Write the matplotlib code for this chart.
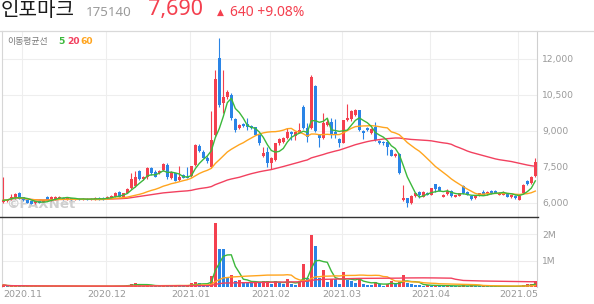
import numpy as np
import pandas as pd
import matplotlib
matplotlib.use('Agg')
import matplotlib.pyplot as plt
from matplotlib.lines import Line2D

# ---------------- data ----------------
opens = [6020, 6050, 6150, 6180, 6400, 6220, 6100, 6060, 5980, 6060,
         6030, 6250, 6080, 6150, 6180, 6200, 6150, 6180, 6120, 6170,
         6120, 6170, 6130, 6150, 6210, 6200, 6180, 6200, 6250, 6450,
         6250, 6420, 6600, 6700, 7300, 7000, 7080, 7450, 7290, 7220,
         7360, 7570, 7010, 7220, 6950, 7150, 7060, 7110, 7570, 8360,
         8130, 7880, 7500, 8820, 12040, 10140, 10390, 10490, 9500, 9100,
         9280, 9280, 9190, 9140, 8820, 7930, 8120, 7650, 7780, 8470,
         8540, 8680, 8930, 8780, 8920, 10000, 9100, 9100, 10860, 8820,
         8680, 9240, 9375, 8960, 8640, 8500, 9440, 9470, 9660, 9860,
         8990, 9100, 8920, 9170, 8580, 8540, 8540, 8200, 7960, 8030,
         6110, 6180, 5970, 6280, 6460, 6250, 6420, 6320, 6760, 6670,
         6250, 6360, 6500, 6250, 6280, 6690, 6460, 6280, 6180, 6280,
         6460, 6360, 6500, 6500, 6320, 6320, 6390, 6220, 6280, 6110,
         6420, 6920, 6810, 7100]
highs = [7080, 6150, 6360, 6420, 6430, 6240, 6120, 6080, 6070, 6080,
         6130, 6280, 6280, 6270, 6260, 6220, 6210, 6200, 6200, 6190,
         6190, 6190, 6190, 6220, 6230, 6220, 6280, 6300, 6440, 6470,
         6420, 6600, 7250, 7300, 7350, 7120, 7500, 7500, 7350, 7350,
         7650, 7640, 7320, 7250, 7530, 7180, 7500, 7540, 8450, 8450,
         8180, 7950, 9800, 11530, 12880, 11530, 10700, 10550, 9520, 9280,
         9300, 9510, 9220, 9160, 8850, 8330, 8330, 7920, 8500, 8700,
         8720, 9100, 8990, 9000, 9300, 10050, 9330, 11300, 10900, 8850,
         9720, 9510, 9510, 9470, 8700, 9450, 10100, 9880, 9900, 9880,
         9020, 9150, 9100, 9380, 8620, 8580, 8560, 8220, 8060, 8060,
         6740, 6200, 6300, 6400, 6480, 6480, 6440, 6620, 6780, 6700,
         6350, 6560, 6520, 6340, 6400, 6720, 6480, 6300, 6300, 6420,
         6540, 6480, 6520, 6510, 6440, 6480, 6400, 6340, 6300, 6300,
         6760, 6960, 7120, 7850]
lows = [6000, 6020, 6110, 6150, 6150, 6090, 5980, 5940, 5960, 5980,
        6010, 6060, 6060, 6130, 6160, 6130, 6130, 6110, 6100, 6100,
        6100, 6110, 6110, 6130, 6130, 6130, 6160, 6180, 6230, 6230,
        6230, 6400, 6550, 6650, 6950, 6950, 7000, 7150, 7050, 7200,
        7340, 6970, 6990, 6900, 6920, 7020, 7020, 7090, 7520, 8100,
        7850, 7650, 7450, 8750, 10000, 9720, 10300, 9450, 8950, 9050,
        9150, 9030, 9080, 8800, 8400, 7900, 7500, 7400, 7750, 8400,
        8500, 8650, 8610, 8600, 8900, 9050, 8540, 9050, 8950, 8300,
        8650, 9200, 8680, 8680, 8300, 8470, 9400, 9420, 9600, 9000,
        8640, 8980, 8880, 8580, 8450, 8420, 7990, 7930, 7920, 7200,
        6080, 5830, 5950, 6250, 6180, 6230, 6300, 6300, 6460, 6480,
        6230, 6340, 6250, 6230, 6260, 6370, 6300, 6120, 6160, 6260,
        6300, 6340, 6360, 6400, 6300, 6300, 6230, 6200, 6160, 6100,
        6400, 6750, 6790, 7050]
closes = [6100, 6130, 6250, 6350, 6170, 6110, 6000, 5960, 6050, 6000,
          6110, 6080, 6250, 6250, 6250, 6150, 6190, 6130, 6180, 6120,
          6170, 6130, 6170, 6200, 6150, 6150, 6250, 6280, 6420, 6250,
          6400, 6560, 7000, 7080, 6980, 7080, 7450, 7220, 7080, 7320,
          7600, 7080, 7290, 6920, 7080, 7040, 7040, 7530, 8400, 8170,
          7880, 7750, 8610, 11140, 10070, 10390, 10630, 9510, 9030, 9240,
          9190, 9140, 9100, 8820, 8470, 8080, 7640, 7870, 8470, 8640,
          8680, 8960, 8850, 8960, 9030, 9100, 8720, 11250, 9000, 8680,
          9300, 9375, 8820, 8860, 8500, 9430, 9510, 9830, 9870, 9030,
          8900, 9030, 9060, 8610, 8500, 8470, 8330, 7960, 8030, 7220,
          6200, 5970, 6280, 6390, 6320, 6460, 6330, 6600, 6560, 6500,
          6320, 6500, 6280, 6320, 6390, 6390, 6320, 6140, 6280, 6390,
          6320, 6460, 6390, 6420, 6420, 6460, 6250, 6320, 6180, 6280,
          6740, 6780, 7050, 7690]
volumes_m = [0.08, 0.03, 0.04, 0.05, 0.04, 0.03, 0.03, 0.04, 0.03, 0.02,
             0.03, 0.04, 0.03, 0.04, 0.03, 0.02, 0.03, 0.02, 0.03, 0.02,
             0.02, 0.03, 0.02, 0.02, 0.03, 0.02, 0.03, 0.03, 0.04, 0.04,
             0.05, 0.08, 0.11, 0.15, 0.07, 0.05, 0.07, 0.05, 0.04, 0.04,
             0.06, 0.06, 0.04, 0.05, 0.05, 0.04, 0.05, 0.14, 0.18, 0.14,
             0.09, 0.07, 0.42, 2.42, 1.46, 1.45, 0.33, 0.45, 0.23, 0.27,
             0.20, 0.19, 0.16, 0.20, 0.19, 0.21, 0.23, 0.11, 0.23, 0.14,
             0.13, 0.30, 0.11, 0.09, 0.23, 0.87, 0.33, 1.97, 1.55, 0.33,
             0.64, 0.20, 0.30, 0.29, 0.11, 0.57, 0.27, 0.23, 0.16, 0.35,
             0.11, 0.09, 0.08, 0.20, 0.13, 0.05, 0.10, 0.23, 0.11, 0.20,
             0.45, 0.16, 0.11, 0.09, 0.08, 0.05, 0.06, 0.05, 0.07, 0.05,
             0.04, 0.05, 0.04, 0.03, 0.04, 0.06, 0.04, 0.06, 0.04, 0.03,
             0.04, 0.03, 0.03, 0.02, 0.03, 0.02, 0.03, 0.02, 0.02, 0.05,
             0.06, 0.10, 0.11, 0.23]
month_labels = ['2020.11', '2020.12', '2021.01', '2021.02', '2021.03', '2021.04', '2021.05']
month_index = [5, 26, 47, 67, 85, 107, 129]
price_ticks = [6000, 7500, 9000, 10500, 12000]
volume_ticks = [1, 2]
ma_windows = [5, 20, 60]

# ---------------- style ----------------
RED = '#f4404f'
BLUE = '#2a84e6'
MA_COLORS = {5: '#3cb83c', 20: '#ffa51f', 60: '#f2415f'}
GRID = '#eeeeee'
TXT = '#999999'
CJK = ['Noto Sans CJK KR', 'DejaVu Sans']

W, H = 594, 304
fig = plt.figure(figsize=(W / 100, H / 100), dpi=100)
fig.patch.set_facecolor('white')

def fx(px):
    return px / W

def fy(py):
    return 1 - py / H

left_px, right_px = 2, 537
ax = fig.add_axes([fx(left_px), fy(216.5), (right_px - left_px) / W, (216.5 - 31) / H])
axv = fig.add_axes([fx(left_px), fy(287), (right_px - left_px) / W, (287 - 216.5) / H])

O = np.array(opens, float)
Hh = np.array(highs, float)
L = np.array(lows, float)
C = np.array(closes, float)
V = np.array(volumes_m, float)
n = len(C)
x = np.arange(n)

xlim = (-0.325, 133.425)
month_pos = [m - 0.25 for m in month_index]

# ---- price panel ----
up = C >= O
col = np.where(up, RED, BLUE)
ax.vlines(x, L, Hh, colors=col, lw=0.8, zorder=3)
body_bottom = np.minimum(O, C)
body_h = np.maximum(np.abs(C - O), 40)
ax.bar(x, body_h, bottom=body_bottom, width=0.7, color=col, linewidth=0, zorder=3)

s = pd.Series(C)
for w in [60, 20, 5]:
    ax.plot(x, s.rolling(w, min_periods=1).mean(), color=MA_COLORS[w], lw=1.0, zorder=4)

ax.set_xlim(*xlim)
ax.set_ylim(5425, 13154)
ax.set_yticks(price_ticks)
ax.set_yticklabels([f"{t:,}" for t in price_ticks])
ax.set_xticks(month_pos)
ax.yaxis.tick_right()
ax.tick_params(axis='y', length=0, pad=3.6, labelsize=6.6, labelcolor=TXT)
ax.tick_params(axis='x', length=0, labelbottom=False)
for lab in ax.get_yticklabels():
    lab.set_va('center_baseline')
ax.grid(True, color=GRID, lw=0.8, zorder=0)
ax.set_axisbelow(True)
for sp in ['top', 'bottom']:
    ax.spines[sp].set_visible(False)
ax.spines['left'].set_color('#d6d6d6')
ax.spines['right'].set_color('#cfcfcf')
ax.spines['left'].set_linewidth(0.8)
ax.spines['right'].set_linewidth(0.8)

ax.text(0.007, 0.065, '©PAXNet', transform=ax.transAxes, fontsize=9.6,
        fontweight='bold', color='#cfcfcf', va='center', ha='left', zorder=1)

# ---- volume panel ----
vcol = [RED if (i == 0 or V[i] > V[i - 1]) else BLUE for i in range(n)]
axv.bar(x, V, width=0.7, color=vcol, linewidth=0, zorder=3)
vs = pd.Series(V)
for w in [5, 20, 60]:
    axv.plot(x, vs.rolling(w, min_periods=1).mean(), color=MA_COLORS[w], lw=1.0, zorder=4)
axv.set_xlim(*xlim)
axv.set_ylim(0, 2.675)
axv.set_yticks(volume_ticks)
axv.set_yticklabels([f"{t}M" for t in volume_ticks])
axv.yaxis.tick_right()
axv.set_xticks(month_pos)
axv.set_xticklabels(month_labels)
axv.tick_params(axis='y', length=0, pad=3.6, labelsize=6.6, labelcolor=TXT)
axv.tick_params(axis='x', length=0, pad=2.2, labelsize=6.8, labelcolor=TXT)
for lab in axv.get_yticklabels():
    lab.set_va('center_baseline')
axv.grid(True, color=GRID, lw=0.8, zorder=0)
axv.set_axisbelow(True)
for sp in ['top', 'bottom']:
    axv.spines[sp].set_visible(False)
axv.spines['left'].set_color('#d6d6d6')
axv.spines['right'].set_color('#cfcfcf')
axv.spines['left'].set_linewidth(0.8)
axv.spines['right'].set_linewidth(0.8)

# ---- frame lines ----
fig.add_artist(Line2D([0, 1], [fy(31), fy(31)], color='#d9d9d9', lw=0.9))
fig.add_artist(Line2D([0, fx(538)], [fy(216.5), fy(216.5)], color='#333333', lw=1.0))

# ---- header texts ----
fig.text(fx(1), fy(10.5), '인포마크', family=CJK, fontsize=14.5, color='#1a1a1a',
         ha='left', va='center')
fig.text(fx(86), fy(12), '175140', family=['Noto Sans', 'DejaVu Sans'], fontsize=9.6,
         color='#9a9a9a', ha='left', va='center')
fig.text(fx(148), fy(10), '7,690', family=['Noto Sans', 'DejaVu Sans'], fontsize=15.5,
         color=RED, ha='left', va='center')
fig.text(fx(216.5), fy(12), '▲', family=['DejaVu Sans'], fontsize=6.5,
         color=RED, ha='left', va='center')
fig.text(fx(229.5), fy(12), '640 +9.08%', family=['Noto Sans', 'DejaVu Sans'], fontsize=10,
         color=RED, ha='left', va='center')

# ---- MA legend ----
fig.text(fx(7), fy(41.5), '이동평균선', family=CJK, fontsize=6.4, color='#7a7a7a',
         ha='left', va='center')
fig.text(fx(58), fy(41.5), '5', fontsize=6.6, fontweight='bold', color=MA_COLORS[5],
         ha='left', va='center')
fig.text(fx(67), fy(41.5), '20', fontsize=6.6, fontweight='bold', color='#f2415f',
         ha='left', va='center')
fig.text(fx(80), fy(41.5), '60', fontsize=6.6, fontweight='bold', color=MA_COLORS[20],
         ha='left', va='center')

fig.savefig('out.png', dpi=100, facecolor='white')
